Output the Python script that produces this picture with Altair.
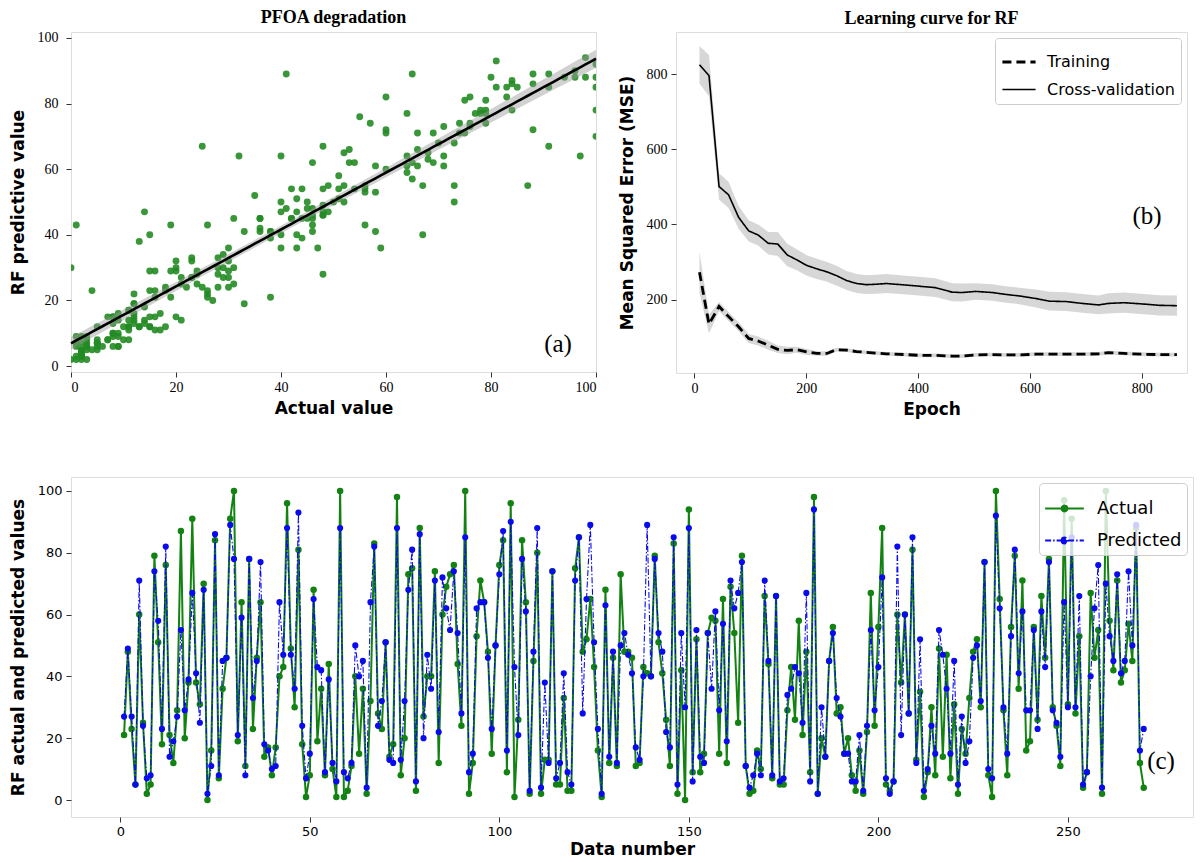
import altair as alt
import pandas as pd
import numpy as np

# ---------------- data ----------------
actual = [
    21, 48, 23, 5, 60, 25, 2, 5, 79, 51,
    18, 76, 21, 12, 29, 87, 20, 38, 91, 38,
    31, 70, 0, 16, 84, 7, 36, 46, 91, 100,
    19, 64, 11, 78, 23, 46, 64, 14, 17, 8,
    17, 40, 43, 96, 49, 30, 81, 18, 1, 8,
    68, 19, 36, 8, 44, 10, 1, 100, 1, 3,
    11, 40, 15, 36, 2, 32, 83, 28, 23, 51,
    14, 18, 98, 8, 20, 73, 75, 3, 88, 27,
    40, 40, 74, 12, 60, 69, 73, 76, 44, 24,
    100, 2, 12, 53, 71, 64, 48, 15, 50, 76,
    84, 9, 96, 1, 26, 84, 64, 2, 45, 80,
    2, 13, 13, 74, 5, 5, 33, 3, 3, 75,
    85, 48, 52, 65, 43, 16, 1, 68, 12, 46,
    11, 73, 48, 48, 46, 11, 12, 43, 41, 40,
    79, 51, 41, 26, 11, 83, 2, 42, 0, 94,
    9, 52, 9, 15, 54, 59, 58, 15, 65, 12,
    69, 54, 25, 79, 11, 2, 3, 16, 10, 66,
    44, 7, 66, 5, 5, 29, 43, 26, 58, 21,
    48, 9, 98, 2, 20, 14, 45, 56, 28, 30,
    15, 20, 8, 3, 16, 2, 22, 67, 24, 56,
    88, 5, 3, 6, 60, 38, 60, 28, 81, 13,
    35, 1, 9, 30, 8, 49, 14, 47, 7, 31,
    2, 23, 15, 33, 48, 52, 30, 77, 8, 1,
    100, 65, 29, 8, 56, 79, 36, 71, 16, 19,
    56, 26, 66, 46, 78, 30, 24, 11, 97, 31,
    91, 28, 53, 4, 9, 67, 46, 55, 2, 100,
    58, 42, 71, 38, 42, 57, 45, 88, 12, 4,
]
predicted = [
    27, 49, 27, 5, 71, 24, 7, 8, 74, 58,
    23, 82, 14, 19, 27, 55, 29, 39, 67, 41,
    25, 68, 2, 11, 86, 8, 45, 46, 89, 78,
    21, 59, 8, 78, 33, 45, 77, 18, 16, 10,
    11, 64, 47, 88, 47, 36, 93, 24, 7, 15,
    65, 43, 42, 9, 39, 12, 6, 88, 9, 7,
    12, 50, 40, 45, 4, 64, 82, 24, 32, 51,
    13, 12, 88, 13, 32, 68, 81, 6, 86, 20,
    47, 36, 71, 22, 72, 62, 55, 74, 54, 28,
    85, 9, 15, 62, 64, 64, 46, 23, 50, 73,
    87, 16, 90, 43, 21, 78, 61, 3, 48, 88,
    4, 38, 12, 74, 7, 12, 41, 9, 5, 71,
    85, 28, 65, 89, 51, 23, 2, 63, 14, 48,
    12, 50, 54, 47, 41, 17, 13, 40, 89, 40,
    78, 54, 48, 22, 17, 85, 5, 54, 30, 88,
    6, 55, 14, 12, 54, 36, 61, 29, 57, 19,
    71, 62, 67, 77, 11, 4, 8, 15, 8, 71,
    45, 8, 66, 6, 7, 34, 36, 43, 41, 25,
    67, 6, 94, 2, 30, 14, 45, 54, 33, 27,
    15, 15, 6, 6, 21, 3, 24, 55, 29, 43,
    72, 7, 2, 6, 82, 21, 60, 28, 85, 12,
    52, 3, 10, 24, 15, 55, 47, 36, 15, 45,
    5, 27, 12, 19, 46, 50, 32, 77, 10, 7,
    92, 62, 30, 15, 53, 81, 41, 61, 29, 29,
    55, 23, 61, 43, 77, 29, 25, 14, 64, 30,
    85, 30, 66, 5, 9, 40, 62, 76, 4, 70,
    53, 45, 73, 41, 45, 74, 50, 89, 16, 23,
]
n_pts = min(len(actual), len(predicted))
actual = actual[:n_pts]
predicted = predicted[:n_pts]
data_number = list(range(1, n_pts + 1))

epochs = [9, 26, 44, 61, 79, 97, 114, 132, 149, 166, 183, 201, 219, 237, 254, 272,
          290, 307, 325, 343, 378, 401, 431, 461, 479, 503, 533, 557, 581, 611, 635,
          665, 694, 723, 740, 768, 798, 832, 863]
train_mse = [273, 135, 182, 155, 128, 97, 90, 79, 68, 65, 67, 61, 57, 57, 67, 66,
             62, 60, 58, 56, 54, 52, 52, 50, 50, 53, 54, 53, 53, 55, 55,
             55, 55, 56, 59, 57, 55, 54, 54]
train_std = [55, 25, 12, 12, 12, 12, 12, 12, 10, 10, 8, 8, 6, 6, 5, 5,
             5, 5, 5, 5, 5, 5, 5, 5, 5, 5, 5, 5, 5, 5, 5,
             5, 5, 5, 5, 5, 5, 5, 5]
cv_mse = [825, 796, 501, 479, 419, 383, 372, 350, 348, 319, 306, 291, 282, 274, 264, 251,
          243, 240, 241, 243, 239, 236, 232, 220, 219, 222, 219, 214, 210, 203, 196,
          195, 190, 186, 190, 192, 189, 185, 184]
cv_std = [50, 55, 35, 35, 30, 28, 28, 30, 32, 30, 28, 27, 27, 26, 26, 25,
          25, 25, 25, 25, 25, 25, 25, 24, 24, 22, 22, 22, 22, 24, 25,
          25, 25, 25, 27, 27, 27, 27, 27]

series_b = ["Training", "Cross-validation"]
series_c = ["Actual", "Predicted"]
panel_labels = ["(a)", "(b)", "(c)"]

SERIF = "Liberation Serif"
SANS = "DejaVu Sans"
GREEN_A = "#238b23"
GREEN_C = "#128212"
BLUE_C = "#0a0aee"
# legend glyph: a line with a small solid-looking marker in the middle
LINE_DOT = ("M-1,0H1"
            "M-0.15,0A0.15,0.15,0,1,0,0.15,0A0.15,0.15,0,1,0,-0.15,0"
            "M-0.1,0A0.1,0.1,0,1,0,0.1,0A0.1,0.1,0,1,0,-0.1,0"
            "M-0.05,0A0.05,0.05,0,1,0,0.05,0A0.05,0.05,0,1,0,-0.05,0")


def axis(title, values, label_font=SERIF, label_size=14, **kw):
    return alt.Axis(title=title, values=values, grid=False, domain=False, ticks=True,
                    tickSize=5, tickColor="#333333", labelColor="black",
                    labelFont=label_font, labelFontSize=label_size,
                    titleFont=SANS, titleFontSize=17, titleFontWeight="bold",
                    titleColor="black", **kw)


# ---------------- panel (a) ----------------
x_arr = np.array(actual, dtype=float)
y_arr = np.array(predicted, dtype=float)
b1, b0 = np.polyfit(x_arr, y_arr, 1)
grid_x = np.linspace(0, 100, 101)
fit_y = b0 + b1 * grid_x
resid = y_arr - (b0 + b1 * x_arr)
s_err = np.sqrt(np.sum(resid ** 2) / (n_pts - 2))
se = s_err * np.sqrt(1.0 / n_pts + (grid_x - x_arr.mean()) ** 2 / np.sum((x_arr - x_arr.mean()) ** 2))
df_fit = pd.DataFrame({"actual": grid_x, "pred": fit_y, "lo": fit_y - 1.97 * se, "hi": fit_y + 1.97 * se})
df_sc = pd.DataFrame({"actual": actual, "pred": predicted})

xa_scale = alt.Scale(domain=[0, 100], nice=False, zero=False)
ya_scale = alt.Scale(domain=[-1.8, 101.8], nice=False, zero=False)
xa_axis = axis("Actual value", [0, 20, 40, 60, 80, 100], labelPadding=3, titlePadding=6)
ya_axis = axis("RF predictive value", [0, 20, 40, 60, 80, 100], labelPadding=8, titlePadding=10)

pts_a = alt.Chart(df_sc).mark_circle(size=48, color=GREEN_A, opacity=0.9, clip=True).encode(
    x=alt.X("actual:Q", scale=xa_scale, axis=xa_axis),
    y=alt.Y("pred:Q", scale=ya_scale, axis=ya_axis),
)
band_a = alt.Chart(df_fit).mark_area(color="#9a9a9a", opacity=0.45).encode(
    x=alt.X("actual:Q", scale=xa_scale, axis=xa_axis),
    y=alt.Y("lo:Q", scale=ya_scale, axis=ya_axis),
    y2="hi:Q",
)
line_a = alt.Chart(df_fit).mark_line(color="black", strokeWidth=2.6).encode(
    x=alt.X("actual:Q", scale=xa_scale, axis=xa_axis),
    y=alt.Y("pred:Q", scale=ya_scale, axis=ya_axis),
)
lab_a = alt.Chart(pd.DataFrame({"t": [panel_labels[0]]})).mark_text(
    font=SERIF, fontSize=25, align="center", baseline="middle").encode(
    text="t:N", x=alt.value(487), y=alt.value(312))

panel_a = alt.layer(pts_a, band_a, line_a, lab_a).properties(
    width=525, height=340,
    title=alt.TitleParams("PFOA degradation", font=SERIF, fontSize=18, fontWeight="bold",
                          offset=4, color="black"))

# ---------------- panel (b) ----------------
nb = len(epochs)
df_lc = pd.DataFrame({
    "epoch": epochs + epochs,
    "mse": train_mse + cv_mse,
    "std": train_std + cv_std,
    "series": [series_b[0]] * nb + [series_b[1]] * nb,
})
df_lc["lo"] = df_lc["mse"] - df_lc["std"]
df_lc["hi"] = df_lc["mse"] + df_lc["std"]

xb_scale = alt.Scale(domain=[-33, 881], nice=False, zero=False)
yb_scale = alt.Scale(domain=[5, 912], nice=False, zero=False)
xb_axis = axis("Epoch", [0, 200, 400, 600, 800], labelPadding=3, titlePadding=6)
yb_axis = axis("Mean Squared Error (MSE)", [200, 400, 600, 800], labelPadding=4, titlePadding=10)

bands_b = alt.Chart(df_lc).mark_area(color="#cdcdcd", opacity=0.8).encode(
    x=alt.X("epoch:Q", scale=xb_scale, axis=xb_axis),
    y=alt.Y("lo:Q", scale=yb_scale, axis=yb_axis),
    y2="hi:Q",
    detail="series:N",
)
lines_b = alt.Chart(df_lc).mark_line(color="black").encode(
    x=alt.X("epoch:Q", scale=xb_scale, axis=xb_axis),
    y=alt.Y("mse:Q", scale=yb_scale, axis=yb_axis),
    strokeDash=alt.StrokeDash("series:N", scale=alt.Scale(domain=series_b, range=[[9, 5], [1, 0]]),
                              legend=alt.Legend(title=None, orient="top-right", offset=6,
                                                fillColor="white", strokeColor="#cccccc",
                                                cornerRadius=3, padding=6,
                                                labelFont=SANS, labelFontSize=16, labelColor="black",
                                                symbolType="stroke", symbolSize=1100,
                                                symbolStrokeWidth=2.5, symbolStrokeColor="black",
                                                rowPadding=2, labelOffset=10)),
    strokeWidth=alt.StrokeWidth("series:N", scale=alt.Scale(domain=series_b, range=[2.8, 1.6]),
                                legend=None),
)
lab_b = alt.Chart(pd.DataFrame({"t": [panel_labels[1]]})).mark_text(
    font=SERIF, fontSize=25, align="center", baseline="middle").encode(
    text="t:N", x=alt.value(471), y=alt.value(184))

panel_b = alt.layer(bands_b, lines_b, lab_b).properties(
    width=511, height=341,
    title=alt.TitleParams("Learning curve for RF", font=SERIF, fontSize=18, fontWeight="bold",
                          offset=4, color="black"))

# ---------------- panel (c) ----------------
df_c = pd.DataFrame({
    "num": data_number + data_number,
    "value": actual + predicted,
    "series": [series_c[0]] * n_pts + [series_c[1]] * n_pts,
})
xc_scale = alt.Scale(domain=[-13, 283], nice=False, zero=False)
yc_scale = alt.Scale(domain=[-5.5, 104.5], nice=False, zero=False)
xc_axis = axis("Data number", [0, 50, 100, 150, 200, 250], label_font=SANS, label_size=13,
               labelPadding=3, titlePadding=3)
yc_axis = axis("RF actual and predicted values", [0, 20, 40, 60, 80, 100], label_font=SANS,
               label_size=13, labelPadding=4, titlePadding=10)
color_c = alt.Scale(domain=series_c, range=[GREEN_C, BLUE_C])
dash_c = alt.Scale(domain=series_c, range=[[1, 0], [6, 2, 1.5, 2]])
legend_c = alt.Legend(title=None, orient="top-right", offset=6,
                      fillColor="rgba(255,255,255,0.8)", strokeColor="#cccccc",
                      cornerRadius=4, padding=5,
                      labelFont=SANS, labelFontSize=18, labelColor="black",
                      symbolType=LINE_DOT, symbolSize=1500, symbolStrokeWidth=2,
                      rowPadding=2, labelOffset=12)

base_c = alt.Chart(df_c)
enc_x = alt.X("num:Q", scale=xc_scale, axis=xc_axis)
enc_y = alt.Y("value:Q", scale=yc_scale, axis=yc_axis)

line_act = base_c.transform_filter(alt.datum.series == series_c[0]).mark_line(strokeWidth=2).encode(
    x=enc_x, y=enc_y,
    color=alt.Color("series:N", scale=color_c, legend=legend_c),
    strokeDash=alt.StrokeDash("series:N", scale=dash_c, legend=legend_c),
)
pts_act = base_c.transform_filter(alt.datum.series == series_c[0]).mark_circle(
    size=42, color=GREEN_C, opacity=1).encode(x=enc_x, y=enc_y)
line_pre = base_c.transform_filter(alt.datum.series == series_c[1]).mark_line(strokeWidth=1.1).encode(
    x=enc_x, y=enc_y,
    color=alt.Color("series:N", scale=color_c, legend=legend_c),
    strokeDash=alt.StrokeDash("series:N", scale=dash_c, legend=legend_c),
)
pts_pre = base_c.transform_filter(alt.datum.series == series_c[1]).mark_circle(
    size=38, color=BLUE_C, opacity=1).encode(x=enc_x, y=enc_y)
lab_c = alt.Chart(pd.DataFrame({"t": [panel_labels[2]]})).mark_text(
    font=SERIF, fontSize=25, align="center", baseline="middle").encode(
    text="t:N", x=alt.value(1090), y=alt.value(284))

panel_c = alt.layer(line_act, pts_act, line_pre, pts_pre, lab_c).properties(width=1122, height=340)

top = alt.hconcat(panel_a, panel_b, spacing=15).resolve_scale(
    strokeDash="independent", strokeWidth="independent", color="independent"
).resolve_legend(strokeDash="independent", strokeWidth="independent", color="independent")
chart = alt.vconcat(top, panel_c, spacing=58).resolve_scale(
    strokeDash="independent", strokeWidth="independent", color="independent"
).resolve_legend(strokeDash="independent", strokeWidth="independent", color="independent").properties(
    padding={"left": 0, "top": 0, "right": 0, "bottom": 0}
).configure_view(stroke="#444444", strokeWidth=1).configure(background="white")

chart.save("out.html", embed_options={"renderer": "svg", "actions": False})
